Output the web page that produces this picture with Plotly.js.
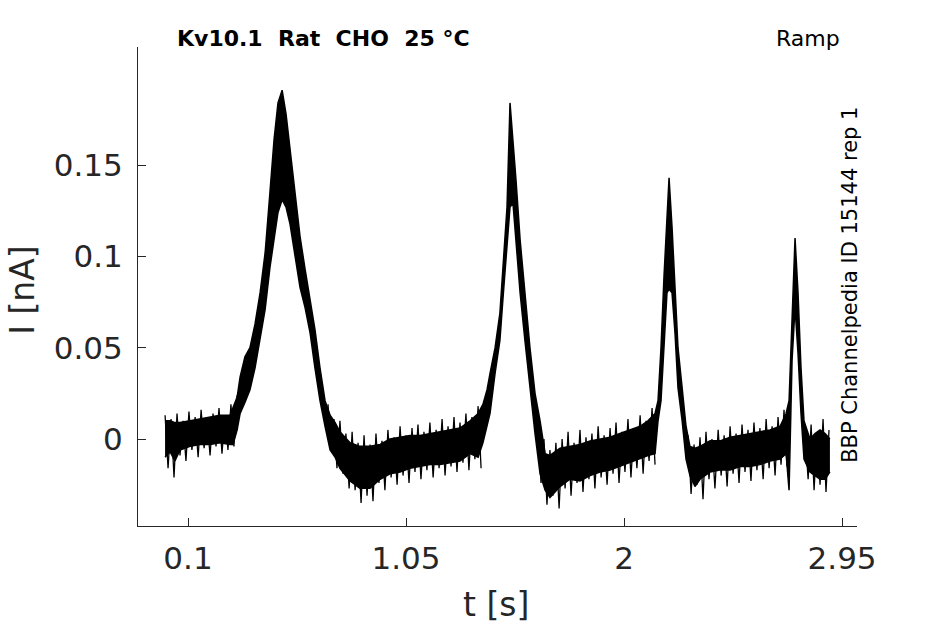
<!DOCTYPE html>
<html>
<head>
<meta charset="utf-8">
<script src="https://cdn.plot.ly/plotly-3.0.1.min.js"></script>
<style>
  body { margin: 0; background: #fff; }
  #plot { width: 945px; height: 624px; }
</style>
</head>
<body>
<div id="plot"></div>
<script>
// time samples [s] for the solid part of the current band
const tSec = [
    0.000, 0.022, 0.043, 0.065, 0.109, 0.152, 0.196, 0.239, 0.283, 0.296,
    0.314, 0.327, 0.348, 0.370, 0.392, 0.414, 0.436, 0.457, 0.475, 0.492,
    0.510, 0.527, 0.544, 0.566, 0.588, 0.610, 0.632, 0.653, 0.675, 0.697,
    0.719, 0.741, 0.762, 0.806, 0.849, 0.893, 0.937, 0.980, 1.024, 1.067,
    1.111, 1.154, 1.198, 1.242, 1.285, 1.329, 1.364, 1.385, 1.403, 1.416,
    1.438, 1.459, 1.473, 1.490, 1.503, 1.516, 1.529, 1.547, 1.568, 1.590,
    1.612, 1.634, 1.656, 1.677, 1.721, 1.764, 1.808, 1.852, 1.895, 1.939,
    1.982, 2.026, 2.070, 2.104, 2.135, 2.148, 2.161, 2.174, 2.187, 2.196,
    2.209, 2.222, 2.235, 2.253, 2.270, 2.287, 2.309, 2.331, 2.375, 2.418,
    2.462, 2.505, 2.549, 2.592, 2.636, 2.680, 2.706, 2.719, 2.732, 2.745,
    2.758, 2.771, 2.784, 2.810, 2.832, 2.854, 2.876, 2.897
];

// top edge of the solid band [nA]
const currentUpper = [
    0.010, 0.010, 0.009, 0.009, 0.010, 0.011, 0.012, 0.013, 0.013, 0.017,
    0.023, 0.034, 0.045, 0.050, 0.063, 0.080, 0.102, 0.135, 0.164, 0.184,
    0.191, 0.178, 0.160, 0.136, 0.111, 0.093, 0.076, 0.060, 0.039, 0.021,
    0.013, 0.009, 0.004, -0.002, -0.004, -0.004, -0.003, 0.000, 0.001, 0.002,
    0.002, 0.003, 0.004, 0.005, 0.006, 0.010, 0.014, 0.019, 0.027, 0.036,
    0.050, 0.069, 0.094, 0.127, 0.184, 0.160, 0.142, 0.109, 0.078, 0.050,
    0.025, 0.010, -0.008, -0.009, -0.005, -0.004, -0.003, -0.001, 0.000, 0.001,
    0.003, 0.005, 0.007, 0.010, 0.014, 0.021, 0.050, 0.089, 0.124, 0.143,
    0.116, 0.080, 0.050, 0.028, 0.007, -0.004, -0.005, -0.004, -0.001, -0.001,
    0.001, 0.002, 0.003, 0.004, 0.005, 0.007, 0.014, 0.021, 0.071, 0.110,
    0.080, 0.039, 0.010, 0.000, 0.003, 0.005, 0.003, 0.000
];

// bottom edge of the solid band [nA]
const currentLower = [
    -0.010, -0.007, -0.012, -0.006, -0.004, -0.003, -0.003, -0.002, -0.003, -0.003,
    0.005, 0.014, 0.020, 0.027, 0.039, 0.054, 0.071, 0.094, 0.111, 0.124,
    0.131, 0.127, 0.118, 0.100, 0.083, 0.072, 0.058, 0.039, 0.021, 0.007,
    -0.006, -0.010, -0.016, -0.023, -0.027, -0.027, -0.022, -0.019, -0.018, -0.016,
    -0.015, -0.014, -0.014, -0.013, -0.012, -0.008, -0.010, -0.002, 0.007, 0.014,
    0.036, 0.054, 0.078, 0.109, 0.127, 0.129, 0.109, 0.080, 0.054, 0.028,
    0.003, -0.019, -0.028, -0.032, -0.026, -0.022, -0.023, -0.020, -0.018, -0.017,
    -0.015, -0.013, -0.011, -0.009, -0.008, 0.010, 0.021, 0.050, 0.080, 0.082,
    0.080, 0.058, 0.028, 0.010, -0.011, -0.020, -0.026, -0.022, -0.018, -0.017,
    -0.017, -0.015, -0.015, -0.014, -0.012, -0.011, -0.008, -0.028, 0.043, 0.072,
    0.047, 0.014, -0.011, -0.018, -0.020, -0.022, -0.022, -0.018
];

// noise tips on the flat stretches (alternating high / low samples)
const noiseT1 = [
    0.000, 0.013, 0.026, 0.039, 0.052, 0.065, 0.078, 0.091, 0.104, 0.117,
    0.131, 0.144, 0.157, 0.170, 0.183, 0.196, 0.209, 0.222, 0.235, 0.248,
    0.261, 0.274, 0.287, 0.300, 0.314
];
const noiseI1 = [
    0.013, -0.016, 0.011, -0.021, 0.014, -0.009, 0.010, -0.012, 0.015, -0.006,
    0.012, -0.010, 0.016, -0.005, 0.011, -0.009, 0.014, -0.004, 0.017, -0.008,
    0.013, -0.006, 0.019, -0.004, 0.024
];

const noiseT2 = [
    0.710, 0.723, 0.736, 0.749, 0.762, 0.775, 0.788, 0.802, 0.815, 0.828,
    0.841, 0.854, 0.867, 0.880, 0.893, 0.906, 0.919, 0.932, 0.945, 0.958,
    0.971, 0.985, 0.998, 1.011, 1.024, 1.037, 1.050, 1.063, 1.076, 1.089,
    1.102, 1.115, 1.128, 1.141, 1.154, 1.168, 1.181, 1.194, 1.207, 1.220,
    1.233, 1.246, 1.259, 1.272, 1.285, 1.298, 1.311, 1.324, 1.337, 1.350,
    1.364, 1.377
];
const noiseI2 = [
    0.019, -0.006, 0.011, -0.016, 0.010, -0.019, 0.003, -0.027, 0.004, -0.028,
    -0.002, -0.035, 0.002, -0.031, -0.003, -0.034, 0.003, -0.024, -0.001, -0.028,
    0.005, -0.021, 0.001, -0.025, 0.007, -0.020, 0.002, -0.024, 0.006, -0.018,
    0.008, -0.022, 0.004, -0.017, 0.009, -0.021, 0.005, -0.016, 0.011, -0.020,
    0.007, -0.015, 0.012, -0.018, 0.009, -0.013, 0.014, -0.017, 0.012, -0.011,
    0.018, -0.016
];

const noiseT3 = [
    1.625, 1.638, 1.651, 1.664, 1.677, 1.690, 1.703, 1.717, 1.730, 1.743,
    1.756, 1.769, 1.782, 1.795, 1.808, 1.821, 1.834, 1.847, 1.860, 1.873,
    1.887, 1.900, 1.913, 1.926, 1.939, 1.952, 1.965, 1.978, 1.991, 2.004,
    2.017, 2.030, 2.043, 2.056, 2.070, 2.083, 2.096, 2.109, 2.122, 2.135
];
const noiseI3 = [
    0.014, -0.024, 0.000, -0.036, -0.006, -0.031, -0.002, -0.038, 0.000, -0.027,
    0.004, -0.031, -0.002, -0.024, 0.005, -0.029, 0.001, -0.022, 0.003, -0.027,
    0.007, -0.021, 0.002, -0.025, 0.006, -0.019, 0.009, -0.024, 0.004, -0.018,
    0.011, -0.021, 0.006, -0.016, 0.013, -0.019, 0.010, -0.012, 0.017, -0.014
];

const noiseT4 = [
    2.279, 2.292, 2.305, 2.318, 2.331, 2.344, 2.357, 2.370, 2.383, 2.396,
    2.410, 2.423, 2.436, 2.449, 2.462, 2.475, 2.488, 2.501, 2.514, 2.527,
    2.540, 2.553, 2.566, 2.579, 2.592, 2.606, 2.619, 2.632, 2.645, 2.658,
    2.671, 2.684, 2.697, 2.710
];
const noiseI4 = [
    0.002, -0.030, -0.003, -0.025, 0.001, -0.033, 0.004, -0.022, 0.000, -0.027,
    0.005, -0.020, 0.002, -0.026, 0.007, -0.019, 0.003, -0.024, 0.008, -0.018,
    0.005, -0.023, 0.009, -0.017, 0.006, -0.022, 0.011, -0.016, 0.007, -0.020,
    0.012, -0.014, 0.016, -0.015
];

const noiseT5 = [2.788, 2.802, 2.815, 2.828, 2.841, 2.854, 2.867, 2.880, 2.893];
const noiseI5 = [0.004, -0.022, 0.008, -0.028, 0.003, -0.025, 0.011, -0.029, 0.005];

const xTicks = [0.1, 1.05, 2, 2.95];
const xTickText = ['0.1', '1.05', '2', '2.95'];
const yTicks = [0, 0.05, 0.1, 0.15];
const yTickText = ['0', '0.05', '0.1', '0.15'];

const axisColor = '#262626';
const nb = '\u00a0';

// join the noisy stretches into one trace, broken by gaps
const noiseX = [];
const noiseY = [];
[[noiseT1, noiseI1], [noiseT2, noiseI2], [noiseT3, noiseI3], [noiseT4, noiseI4], [noiseT5, noiseI5]]
    .forEach(function (seg) {
        for (let i = 0; i < seg[0].length; i++) {
            noiseX.push(seg[0][i]);
            noiseY.push(seg[1][i]);
        }
        noiseX.push(null);
        noiseY.push(null);
    });

const lowerTrace = {
    x: tSec,
    y: currentLower,
    mode: 'lines',
    line: { color: '#000', width: 1.5 },
    showlegend: false,
    type: 'scatter'
};

const upperTrace = {
    x: tSec,
    y: currentUpper,
    mode: 'lines',
    fill: 'tonexty',
    fillcolor: '#000',
    line: { color: '#000', width: 1.5 },
    showlegend: false,
    type: 'scatter'
};

const noiseTrace = {
    x: noiseX,
    y: noiseY,
    mode: 'lines',
    connectgaps: false,
    line: { color: '#000', width: 1.3 },
    showlegend: false,
    type: 'scatter'
};

const layout = {
    width: 945,
    height: 624,
    margin: { l: 138, r: 88, t: 47, b: 98 },
    paper_bgcolor: '#fff',
    plot_bgcolor: '#fff',
    font: { family: 'DejaVu Sans', color: axisColor },
    xaxis: {
        range: [-0.118, 3.015],
        tickvals: xTicks,
        ticktext: xTickText,
        ticks: 'inside',
        ticklen: 8,
        tickwidth: 1,
        tickcolor: axisColor,
        showline: true,
        linecolor: axisColor,
        linewidth: 1,
        showgrid: false,
        zeroline: false,
        tickfont: { size: 31, color: axisColor },
        ticklabelstandoff: 5
    },
    yaxis: {
        range: [-0.0476, 0.2146],
        tickvals: yTicks,
        ticktext: yTickText,
        ticks: 'inside',
        ticklen: 8,
        tickwidth: 1,
        tickcolor: axisColor,
        showline: true,
        linecolor: axisColor,
        linewidth: 1,
        showgrid: false,
        zeroline: false,
        tickfont: { size: 31, color: axisColor },
        ticklabelstandoff: 8
    },
    annotations: [
        {
            text: 'Kv10.1' + nb + nb + 'Rat' + nb + nb + 'CHO' + nb + nb + '25 °C',
            xref: 'paper', yref: 'paper', x: 0.052, y: 1.017,
            xanchor: 'left', yanchor: 'middle', showarrow: false,
            font: { size: 22, color: '#000', family: 'DejaVu Sans', weight: 'bold' }
        },
        {
            text: 'Ramp',
            xref: 'paper', yref: 'paper', x: 0.979, y: 1.017,
            xanchor: 'right', yanchor: 'middle', showarrow: false,
            font: { size: 22, color: '#000' }
        },
        {
            text: 'BBP Channelpedia ID 15144 rep 1',
            xref: 'paper', yref: 'paper', x: 0.990, y: 0.503,
            xanchor: 'center', yanchor: 'middle', textangle: -90, showarrow: false,
            font: { size: 21, color: '#000' }
        },
        {
            text: 'I [nA]',
            xref: 'paper', yref: 'paper', x: -0.160, y: 0.493,
            xanchor: 'center', yanchor: 'middle', textangle: -90, showarrow: false,
            font: { size: 33, color: axisColor }
        },
        {
            text: 't [s]',
            xref: 'paper', yref: 'paper', x: 0.498, y: -0.163,
            xanchor: 'center', yanchor: 'middle', showarrow: false,
            font: { size: 33, color: axisColor }
        }
    ]
};

Plotly.newPlot('plot', [lowerTrace, upperTrace, noiseTrace], layout, { staticPlot: true });
</script>
</body>
</html>
